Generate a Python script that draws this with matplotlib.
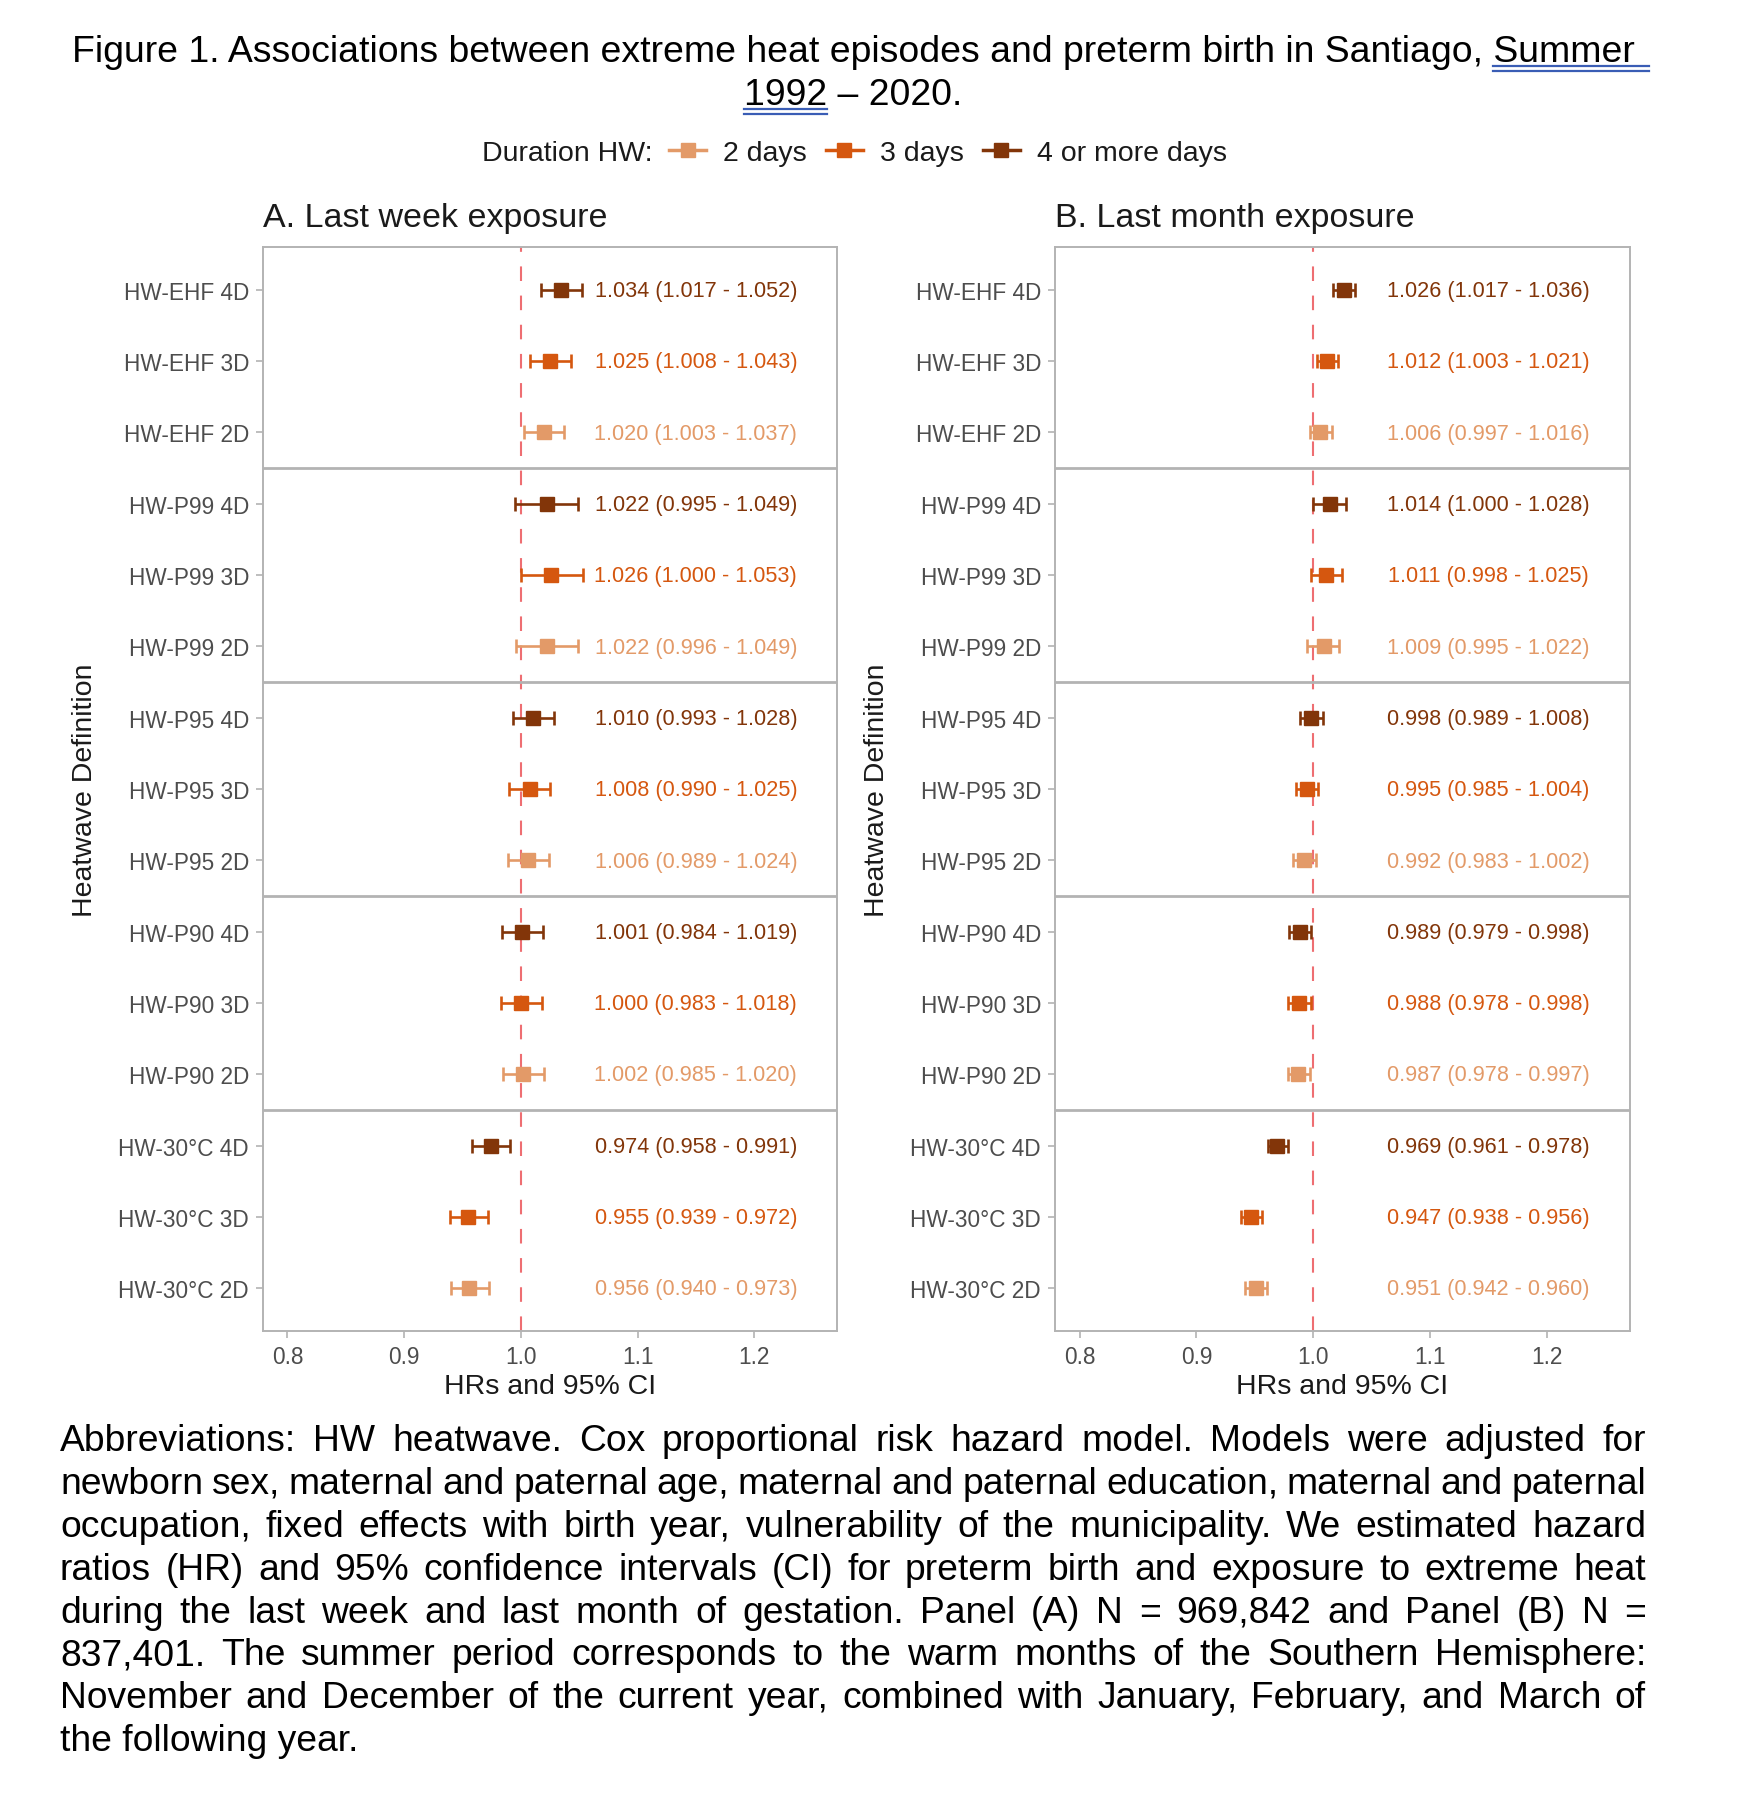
import matplotlib
matplotlib.use("Agg")
import matplotlib.pyplot as plt
from matplotlib.lines import Line2D
from matplotlib.font_manager import FontProperties
import numpy as np

plt.rcParams['font.family'] = ['Liberation Sans', 'DejaVu Sans']

# ---------------- data ----------------
definitions = ["HW-EHF 4D", "HW-EHF 3D", "HW-EHF 2D",
               "HW-P99 4D", "HW-P99 3D", "HW-P99 2D",
               "HW-P95 4D", "HW-P95 3D", "HW-P95 2D",
               "HW-P90 4D", "HW-P90 3D", "HW-P90 2D",
               "HW-30°C 4D", "HW-30°C 3D", "HW-30°C 2D"]
duration = ["4", "3", "2"] * 5

week_hr = [1.034, 1.025, 1.020, 1.022, 1.026, 1.022, 1.010, 1.008, 1.006,
           1.001, 1.000, 1.002, 0.974, 0.955, 0.956]
week_lo = [1.017, 1.008, 1.003, 0.995, 1.000, 0.996, 0.993, 0.990, 0.989,
           0.984, 0.983, 0.985, 0.958, 0.939, 0.940]
week_hi = [1.052, 1.043, 1.037, 1.049, 1.053, 1.049, 1.028, 1.025, 1.024,
           1.019, 1.018, 1.020, 0.991, 0.972, 0.973]

month_hr = [1.026, 1.012, 1.006, 1.014, 1.011, 1.009, 0.998, 0.995, 0.992,
            0.989, 0.988, 0.987, 0.969, 0.947, 0.951]
month_lo = [1.017, 1.003, 0.997, 1.000, 0.998, 0.995, 0.989, 0.985, 0.983,
            0.979, 0.978, 0.978, 0.961, 0.938, 0.942]
month_hi = [1.036, 1.021, 1.016, 1.028, 1.025, 1.022, 1.008, 1.004, 1.002,
            0.998, 0.998, 0.997, 0.978, 0.956, 0.960]

x_ticks = [0.8, 0.9, 1.0, 1.1, 1.2]
legend_labels = ["2 days", "3 days", "4 or more days"]
panel_titles = ["A. Last week exposure", "B. Last month exposure"]

colors = {"2": "#E39A68", "3": "#D5570F", "4": "#823509"}

title_line1 = "Figure 1. Associations between extreme heat episodes and preterm birth in Santiago, Summer"
title_line2 = "1992 \u2013 2020."
caption_lines = [
    "Abbreviations: HW heatwave. Cox proportional risk hazard model. Models were adjusted for",
    "newborn sex, maternal and paternal age, maternal and paternal education, maternal and paternal",
    "occupation, fixed effects with birth year, vulnerability of the municipality. We estimated hazard",
    "ratios (HR) and 95% confidence intervals (CI) for preterm birth and exposure to extreme heat",
    "during the last week and last month of gestation. Panel (A) N = 969,842 and Panel (B) N =",
    "837,401. The summer period corresponds to the warm months of the Southern Hemisphere:",
    "November and December of the current year, combined with January, February, and March of",
    "the following year.",
]

# ---------------- figure ----------------
W, H = 1738, 1808
DPI = 100
fig = plt.figure(figsize=(W / DPI, H / DPI), dpi=DPI)
fig.patch.set_facecolor("white")

def fx(px):
    return px / W

def fy(py):
    return 1 - py / H

grey_border = "#B3B3B3"
grey_text = "#4D4D4D"

panels = [(263, 837), (1055, 1630)]
top, bottom = 248, 1332
datasets = [(week_hr, week_lo, week_hi), (month_hr, month_lo, month_hi)]

n = len(definitions)
ypos = np.arange(n)[::-1] + 1

for (l, r), (hr, lo, hi), ptitle in zip(panels, datasets, panel_titles):
    ax = fig.add_axes([fx(l), fy(bottom), (r - l) / W, (bottom - top) / H])
    ax.set_xlim(0.779, 1.271)
    ax.set_ylim(0.4, n + 0.6)
    for sp in ax.spines.values():
        sp.set_color(grey_border)
        sp.set_linewidth(1.4)
    ax.axvline(1.0, color="#EE6E72", lw=1.5, dashes=(7, 7), zorder=1)
    for s in [3.5, 6.5, 9.5, 12.5]:
        ax.axhline(s, color=grey_border, lw=2.0, zorder=1)
    for i in range(n):
        c = colors[duration[i]]
        ax.errorbar(hr[i], ypos[i], xerr=[[hr[i] - lo[i]], [hi[i] - hr[i]]],
                    fmt="s", color=c, ecolor=c, elinewidth=1.9, capsize=5,
                    capthick=1.9, markersize=10, zorder=3)
        ax.text(1.15, ypos[i] - 0.01, f"{hr[i]:.3f} ({lo[i]:.3f} - {hi[i]:.3f})",
                ha="center", va="center", color=c, fontsize=15.6)
    ax.set_yticks(ypos)
    ax.set_yticklabels(definitions)
    ax.set_xticks(x_ticks)
    ax.set_xticklabels([f"{v:.1f}" for v in x_ticks])
    ax.tick_params(axis="both", colors=grey_border, labelcolor=grey_text,
                   labelsize=16.3, length=5, width=1.2)
    ax.tick_params(axis="y", pad=5)
    ax.tick_params(axis="x", pad=5)
    ax.set_ylabel("Heatwave Definition", fontsize=20.5, color="#1A1A1A")
    ax.yaxis.set_label_coords(-0.31, 0.5)
    ax.yaxis.label.set_va("center")
    ax.set_xlabel("HRs and 95% CI", fontsize=20.5, color="#1A1A1A")
    ax.xaxis.set_label_coords(0.5, -0.051)
    ax.xaxis.label.set_va("center")
    fig.text(fx(l), fy(227), ptitle, fontsize=24.5, color="#1A1A1A",
             ha="left", va="baseline")

# ---------------- legend ----------------
handles = [Line2D([], [], color=colors[k], lw=2.5, marker="s", markersize=10)
           for k in ["2", "3", "4"]]
fig.legend(handles, legend_labels, ncol=3, loc="center left",
           bbox_to_anchor=(fx(669), fy(154)), frameon=False, fontsize=20.5,
           borderpad=0, borderaxespad=0, handlelength=1.3, handletextpad=0.6,
           columnspacing=0.67, labelcolor="#1A1A1A")
fig.text(fx(653), fy(154), "Duration HW:", fontsize=20.5, color="#1A1A1A",
         ha="right", va="center")

# ---------------- title with double underline ----------------
renderer = fig.canvas.get_renderer()
tfs = 26.9
tprop = FontProperties(family=["Liberation Sans"], size=tfs)

def tw(s, prop):
    w, h, d = renderer.get_text_width_height_descent(s, prop, ismath=False)
    return w

cx = 853
fig.text(fx(cx), fy(62), title_line1, fontsize=tfs, color="black",
         ha="center", va="baseline")
fig.text(fx(cx), fy(105), title_line2, fontsize=tfs, color="black",
         ha="center", va="baseline")

blue = "#3A5DB5"
w1 = tw(title_line1, tprop)
left1 = cx - w1 / 2
pref = tw("Figure 1. Associations between extreme heat episodes and preterm birth in Santiago, ", tprop)
u1s = left1 + pref
u1e = left1 + w1 + tw(" ", tprop) + 4
w2 = tw(title_line2, tprop)
left2 = cx - w2 / 2
u2s = left2
u2e = left2 + tw("1992", tprop)
for (xs, xe, ybase) in [(u1s, u1e, 67), (u2s, u2e, 110)]:
    for dy in (0, 4.5):
        fig.add_artist(Line2D([fx(xs), fx(xe)], [fy(ybase + dy), fy(ybase + dy)],
                              color=blue, lw=1.6, transform=fig.transFigure))

# ---------------- justified caption ----------------
cfs = 26.8
cprop = FontProperties(family=["Liberation Sans"], size=cfs)
x0, x1 = 60, 1646
base0, lstep = 1451, 42.9
for li, line in enumerate(caption_lines):
    yb = base0 + li * lstep
    words = line.split(" ")
    if li == len(caption_lines) - 1 or len(words) == 1:
        fig.text(fx(x0), fy(yb), line, fontsize=cfs, color="black",
                 ha="left", va="baseline")
        continue
    widths = [tw(wd, cprop) for wd in words]
    gap = (x1 - x0 - sum(widths)) / (len(words) - 1)
    xc = x0
    for wd, wdw in zip(words, widths):
        fig.text(fx(xc), fy(yb), wd, fontsize=cfs, color="black",
                 ha="left", va="baseline")
        xc += wdw + gap

fig.savefig("out.png", dpi=DPI, facecolor="white")
